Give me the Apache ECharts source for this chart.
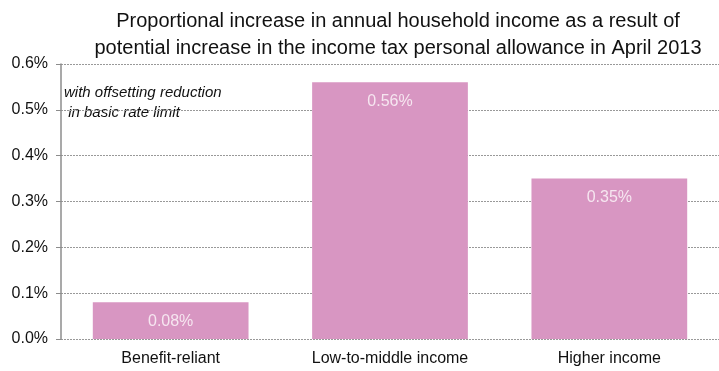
<!DOCTYPE html>
<html>
<head>
<meta charset="utf-8">
<script src="https://cdn.jsdelivr.net/npm/echarts@6/dist/echarts.min.js"></script>
<style>
  html, body { margin: 0; padding: 0; background: #fff; }
  #chart { width: 719px; height: 371px; }
</style>
</head>
<body>
<div id="chart"></div>
<script>
// Household groups and the proportional income gain for each (percent)
const categories = ['Benefit-reliant', 'Low-to-middle income', 'Higher income'];
const incomeIncrease = [0.08, 0.56, 0.35];
const yTicks = [0.0, 0.1, 0.2, 0.3, 0.4, 0.5, 0.6];

const titleLines = [
  'Proportional increase in annual household income as a result of',
  'potential increase in the income tax personal allowance in April 2013'
];
const noteLines = ['with offsetting reduction', ' in basic rate limit'];

const FONT = '"Liberation Sans", Arial, sans-serif';

const chart = echarts.init(document.getElementById('chart'), null, { renderer: 'canvas' });

chart.setOption({
  animation: false,
  backgroundColor: '#ffffff',
  title: {
    text: titleLines.join('\n'),
    left: 393,
    textAlign: 'center',
    top: 3,
    textStyle: {
      fontFamily: FONT,
      fontSize: 20,
      fontWeight: 'normal',
      color: '#111',
      lineHeight: 27
    }
  },
  graphic: [{
    type: 'text',
    left: 64,
    top: 83,
    style: {
      text: noteLines.join('\n'),
      font: 'italic 15px ' + FONT,
      fill: '#111',
      lineHeight: 20
    }
  }],
  grid: { left: 61, right: 0, top: 64, bottom: 32 },
  xAxis: {
    type: 'category',
    data: categories,
    axisLine: { show: false },
    axisTick: { show: false },
    axisLabel: {
      fontFamily: FONT,
      fontSize: 16,
      color: '#111',
      margin: 12
    }
  },
  yAxis: {
    type: 'value',
    min: yTicks[0],
    max: yTicks[yTicks.length - 1],
    interval: 0.1,
    axisLine: { show: true, lineStyle: { color: '#8c8c8c', width: 1.5 } },
    axisTick: { show: true, length: 5, lineStyle: { color: '#8c8c8c' } },
    axisLabel: {
      fontFamily: FONT,
      fontSize: 16,
      color: '#111',
      margin: 13,
      formatter: v => v.toFixed(1) + '%'
    },
    splitLine: {
      show: true,
      lineStyle: { color: '#999', type: [2, 1], width: 1 }
    }
  },
  series: [{
    type: 'bar',
    data: incomeIncrease,
    barCategoryGap: '29%',
    itemStyle: { color: '#d896c2' },
    label: {
      show: true,
      position: 'insideTop',
      distance: 11,
      fontFamily: FONT,
      fontSize: 16,
      color: '#f6e6f0',
      formatter: p => p.value.toFixed(2) + '%'
    }
  }]
});
</script>
</body>
</html>
